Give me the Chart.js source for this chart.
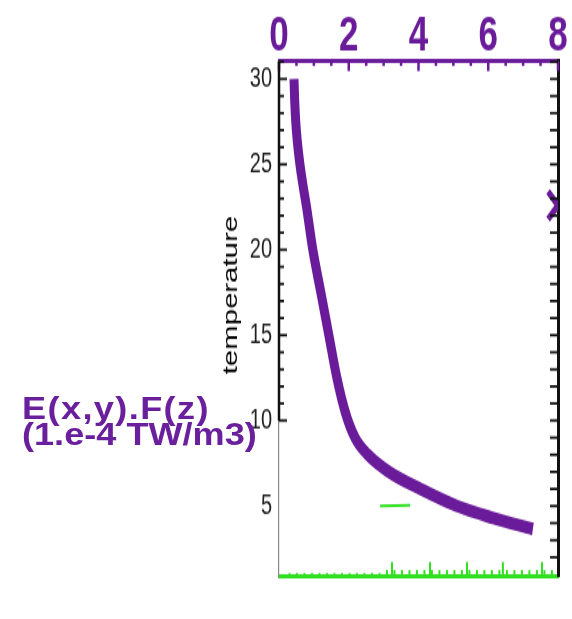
<!DOCTYPE html>
<html>
<head>
<meta charset="utf-8">
<script src="https://cdn.jsdelivr.net/npm/chart.js@4"></script>
<style>
  html, body { margin: 0; padding: 0; background: #fff; }
  body { width: 572px; height: 619px; position: relative; overflow: hidden; }
  #wrap { position: absolute; left: 0; top: 0; width: 572px; height: 442px; transform: scaleY(1.4005); transform-origin: 0 0; }
  #unitLabel {
    position: absolute; left: 22px; top: 396px;
    font: bold 31px "Liberation Sans", Arial, sans-serif; line-height: 26px;
    color: #6a1f9c; white-space: nowrap;
    transform: scaleX(1.165); transform-origin: 0 0;
  }
  #unitLabel span { letter-spacing: 1.2px; }
</style>
</head>
<body>
<div id="wrap"><canvas id="profileChart" width="572" height="442"></canvas></div>
<div id="unitLabel"><span>E(x,y).F(z)</span><br>(1.e-4 TW/m3)</div>
<script>
// profile: temperature level vs E(x,y).F(z)
const tempLevels   = [30, 28.75, 27.5, 26.25, 25, 23.75, 22.5, 20, 17.5, 15, 12.5, 10.5, 9, 8, 7, 6, 5, 4.3, 3.65];
const energyValues = [0.43, 0.45, 0.48, 0.53, 0.6, 0.69, 0.79, 0.97, 1.2, 1.43, 1.66, 1.9, 2.18, 2.55, 3.15, 4.05, 5.1, 6.14, 7.28];

// stray marks of the original picture
const crossX = [8];
const crossY = [22.6];
const dashX = [2.9, 3.76];
const dashY = [5.0, 5.05];

const xTickLabels = [0, 2, 4, 6, 8];
const yTickLabels = [5, 10, 15, 20, 25, 30];
const greenMajorTicks = [3.24, 4.33, 5.39, 6.42, 7.54];
const yTitle = "temperature";

const PURPLE = "#6a1b9a";
const GREEN = "#2fe01f";
const SY = 619 / 442; // the picture is stretched vertically

function seg(ctx, x1, y1, x2, y2) {
    ctx.beginPath();
    ctx.moveTo(x1, y1);
    ctx.lineTo(x2, y2);
    ctx.stroke();
}

// inward ticks, the dark part of the left axis and the rotated title
const axisDecor = {
    id: "axisDecor",
    afterDatasetsDraw(chart) {
        const { ctx, chartArea: a, scales } = chart;
        const x = scales.x, y = scales.y;
        ctx.save();

        ctx.strokeStyle = PURPLE;
        ctx.lineWidth = 2.5;
        for (let v = 0; v <= 8; v += 0.5) {
            const px = x.getPixelForValue(v);
            seg(ctx, px, a.top, px, a.top + (v % 2 === 0 ? 10 : 5) / SY);
        }

        ctx.strokeStyle = "#111";
        ctx.lineWidth = 2.5;
        seg(ctx, a.left, a.top, a.left, y.getPixelForValue(10));
        ctx.lineWidth = 1.8;
        for (let v = 10; v <= 31; v++) {
            const py = y.getPixelForValue(v);
            seg(ctx, a.left, py, a.left + (v % 5 === 0 ? 8 : 5), py);
        }
        for (let v = 2; v <= 31; v++) {
            const py = y.getPixelForValue(v);
            seg(ctx, a.right - 8, py, a.right, py);
        }

        ctx.strokeStyle = GREEN;
        ctx.lineWidth = 2;
        for (let v = 0.3; v < 7.95; v += 0.215) {
            const px = x.getPixelForValue(v);
            seg(ctx, px, a.bottom, px, a.bottom - (v < 3 ? 3 : 6) / SY);
        }
        greenMajorTicks.forEach(v => {
            const px = x.getPixelForValue(v);
            seg(ctx, px, a.bottom, px, a.bottom - 14 / SY);
        });

        ctx.fillStyle = "#000";
        ctx.font = '21px "Liberation Sans", Arial, sans-serif';
        ctx.translate(231, 295 / SY);
        ctx.rotate(-Math.PI / 2);
        ctx.textAlign = "center";
        ctx.textBaseline = "middle";
        ctx.fillText(yTitle, 0, 0);
        ctx.restore();
    }
};

const points = tempLevels.map((t, i) => ({ x: energyValues[i], y: t }));

new Chart(document.getElementById("profileChart"), {
    type: "line",
    data: {
        datasets: [{
            data: points,
            xAxisID: "x",
            yAxisID: "y",
            borderColor: PURPLE,
            borderWidth: 9,
            borderCapStyle: "butt",
            pointRadius: 0,
            cubicInterpolationMode: "monotone",
            fill: false
        }, {
            data: crossX.map((v, i) => ({ x: v, y: crossY[i] })),
            xAxisID: "x",
            yAxisID: "y",
            showLine: false,
            pointStyle: "crossRot",
            pointRadius: 14,
            pointBorderWidth: 5,
            pointBorderColor: PURPLE
        }, {
            data: dashX.map((v, i) => ({ x: v, y: dashY[i] })),
            xAxisID: "x",
            yAxisID: "y",
            borderColor: GREEN,
            borderWidth: 2,
            pointRadius: 0
        }]
    },
    options: {
        responsive: false,
        animation: false,
        devicePixelRatio: 1,
        layout: { padding: 0, autoPadding: false },
        plugins: { legend: { display: false }, tooltip: { enabled: false } },
        scales: {
            x: {
                type: "linear", position: "top", min: 0, max: 8,
                afterBuildTicks: s => { s.ticks = xTickLabels.map(v => ({ value: v })); },
                afterFit: s => { s.height = 61 / SY; },
                grid: { display: false, drawTicks: false },
                border: { display: true, color: PURPLE, width: 3 },
                ticks: { color: PURPLE, padding: -3.5, font: { family: "'Liberation Sans', Arial, sans-serif", size: 35, weight: "bold" } }
            },
            x2: {
                type: "linear", position: "bottom", min: 0, max: 8,
                afterFit: s => { s.height = 442 - 576 / SY; },
                grid: { display: false, drawTicks: false },
                border: { display: true, color: GREEN, width: 3 },
                ticks: { display: false }
            },
            y: {
                type: "linear", position: "left", min: 0.9, max: 31.05,
                afterBuildTicks: s => { s.ticks = yTickLabels.map(v => ({ value: v })); },
                afterFit: s => { s.width = 279; },
                grid: { display: false, drawTicks: false },
                border: { display: true, color: "#888", width: 1.2 },
                ticks: { color: "#222", padding: 7, font: { family: "'Liberation Sans', Arial, sans-serif", size: 20 } }
            },
            y2: {
                type: "linear", position: "right", min: 0.9, max: 31.05,
                afterFit: s => { s.width = 572 - 558; },
                grid: { display: false, drawTicks: false },
                border: { display: true, color: "#111", width: 3 },
                ticks: { display: false }
            }
        }
    },
    plugins: [axisDecor]
});
</script>
</body>
</html>
